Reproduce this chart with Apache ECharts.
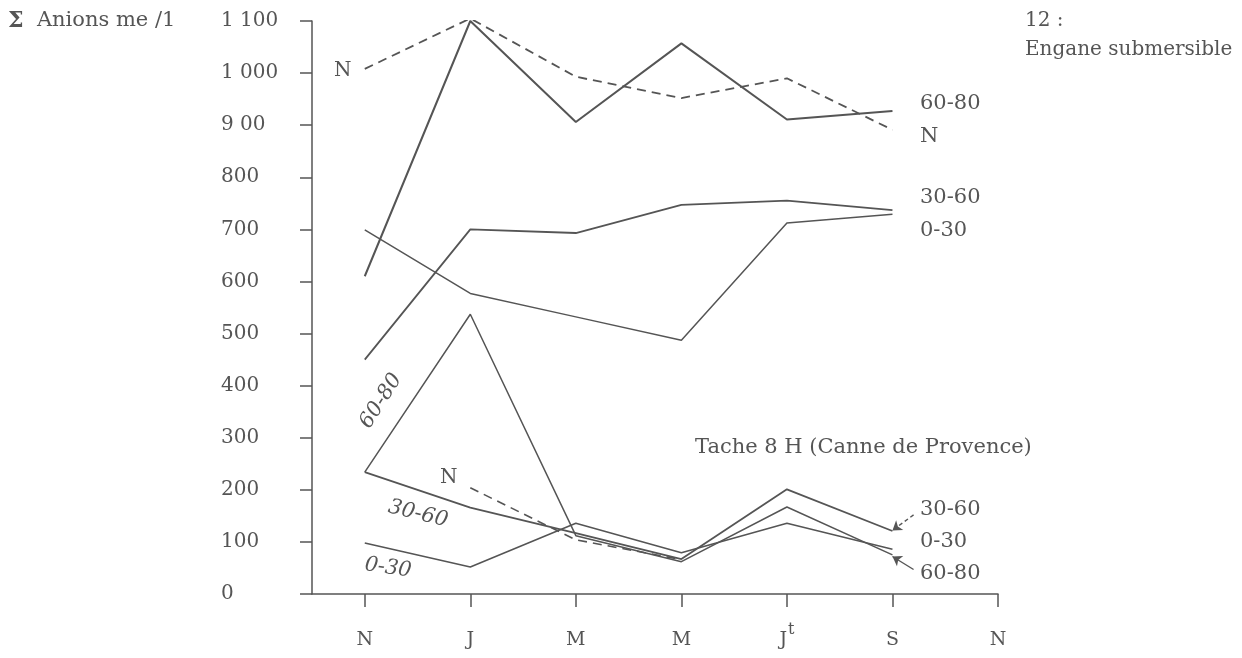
<!DOCTYPE html>
<html>
<head>
<meta charset="utf-8">
<script src="https://cdn.jsdelivr.net/npm/echarts@6/dist/echarts.min.js"></script>
<style>
html,body{margin:0;padding:0;background:#fff;}
#c{width:1242px;height:658px;}
</style>
</head>
<body>
<div id="c"></div>
<script>
// ---- data ----
const categories = ['N', 'J', 'M', 'M', 'Jt', 'S', 'N'];
const yTickLabels = ['0', '100', '200', '300', '400', '500', '600', '700', '800', '9 00', '1 000', '1 100'];

// Engane submersible (upper group)
const engN    = [1008, 1105, 993, 952, 990, 891];
const eng6080 = [610, 1100, 906, 1057, 911, 927];
const eng3060 = [450, 700, 693, 747, 755, 737];
const eng030  = [699, 577, 532, 487, 712, 729];

// Tache 8 H (Canne de Provence) (lower group)
const tacN    = [null, 204, 104, 66, null, null];
const tac6080 = [234, 537, 112, 62, 167, 75];
const tac3060 = [234, 166, 117, 67, 201, 121];
const tac030  = [98, 52, 136, 79, 136, 86];

// annotation arrows (data space): [fromX, fromY, toX, toY]
const arrow3060 = [5.2, 152, 5.0, 122];
const arrow6080 = [5.2, 47, 5.0, 72];

// ---- chart ----
const INK = '#555';
const FONT = '"DejaVu Serif", "Liberation Serif", serif';

function pts(arr) {
  const out = [];
  arr.forEach((v, i) => { if (v !== null) out.push([i, v]); });
  return out;
}
function line(name, arr, dashed, width) {
  return {
    name, type: 'line', data: pts(arr), symbol: 'none', silent: true,
    lineStyle: { color: INK, width: width || 1.8, type: dashed ? [9, 6] : 'solid' },
    z: 3
  };
}

const chart = echarts.init(document.getElementById('c'), null, { renderer: 'canvas' });

const series = [
  line('eng N', engN, true, 1.8),
  line('eng 60-80', eng6080, false, 2),
  line('eng 30-60', eng3060, false, 1.8),
  line('eng 0-30', eng030, false, 1.5),
  line('tac N', tacN, true, 1.6),
  line('tac 60-80', tac6080, false, 1.5),
  line('tac 30-60', tac3060, false, 1.8),
  line('tac 0-30', tac030, false, 1.6)
];
// arrows
series.push({
  type: 'line', data: [], silent: true,
  markLine: {
    silent: true, symbol: ['none', 'arrow'], symbolSize: 9,
    label: { show: false },
    data: [
      [{ coord: [arrow3060[0], arrow3060[1]], lineStyle: { type: [4, 3] } }, { coord: [arrow3060[2], arrow3060[3]] }],
      [{ coord: [arrow6080[0], arrow6080[1]] }, { coord: [arrow6080[2], arrow6080[3]] }]
    ],
    lineStyle: { color: INK, width: 1.4, type: 'solid' }
  }
});

function txt(text, x, y, size, extra) {
  return Object.assign({
    type: 'text', x, y, silent: true,
    style: Object.assign({ text, fill: INK, fontSize: size || 20, fontFamily: FONT, textVerticalAlign: 'middle' }, extra || {})
  });
}
function itxt(text, x, y, rot) {
  return {
    type: 'text', x, y, rotation: rot, silent: true,
    style: { text, fill: INK, fontSize: 21, fontFamily: FONT, fontStyle: 'italic', textAlign: 'center', textVerticalAlign: 'middle' }
  };
}

chart.setOption({
  animation: false,
  backgroundColor: '#fff',
  grid: { left: 312, right: 244, top: 21, bottom: 64, containLabel: false },
  xAxis: {
    type: 'value', min: -0.5, max: 6,
    splitLine: { show: false },
    axisLine: { show: true, onZero: false, lineStyle: { color: INK, width: 1.5 } },
    axisTick: { show: true, length: 13, customValues: [0, 1, 2, 3, 4, 5, 6], lineStyle: { color: INK, width: 1.5 } },
    axisLabel: {
      customValues: [0, 1, 2, 3, 4, 5, 6],
      margin: 28, color: INK,
      formatter: function (v) {
        const c = categories[Math.round(v)];
        if (c === 'Jt') return '{b|J}{s|t}';
        return '{b|' + c + '}{e| }';
      },
      rich: {
        b: { fontSize: 19, fontFamily: FONT, color: INK, lineHeight: 28, verticalAlign: 'bottom' },
        s: { fontSize: 16, fontFamily: FONT, color: INK, lineHeight: 28, verticalAlign: 'top', padding: [0, 0, 0, 1] },
        e: { fontSize: 16, fontFamily: FONT, color: INK, lineHeight: 28, width: 0 }
      }
    }
  },
  yAxis: {
    type: 'value', min: 0, max: 1100, interval: 100,
    splitLine: { show: false },
    axisLine: { show: true, onZero: false, lineStyle: { color: INK, width: 1.5 } },
    axisTick: { show: true, length: 12, lineStyle: { color: INK, width: 1.5 } },
    axisLabel: {
      color: INK, fontSize: 20, fontFamily: FONT, align: 'left', margin: 91,
      formatter: function (v) { return yTickLabels[Math.round(v / 100)]; }
    }
  },
  graphic: [
    { type: 'text', x: 8, y: 21, silent: true,
      style: { text: '{sig|Σ}  Anions me /1', fill: INK, fontSize: 21, fontFamily: FONT, textVerticalAlign: 'middle',
        rich: { sig: { fontSize: 22, fontWeight: 'bold', fontFamily: FONT, fill: INK } } } },
    txt('12 :', 1025, 21, 20),
    txt('Engane submersible', 1025, 50, 20),
    txt('N', 334, 71, 20),
    txt('60-80', 920, 104, 21),
    txt('N', 920, 137, 21),
    txt('30-60', 920, 198, 21),
    txt('0-30', 920, 231, 21),
    txt('Tache 8 H (Canne de Provence)', 695, 448, 21),
    txt('30-60', 920, 510, 21),
    txt('0-30', 920, 542, 21),
    txt('60-80', 920, 574, 21),
    txt('N', 440, 478, 20),
    itxt('60-80', 381, 401, 1.0),
    itxt('30-60', 418, 514, -0.24),
    itxt('0-30', 388, 568, -0.14)
  ],
  series
});
</script>
</body>
</html>
